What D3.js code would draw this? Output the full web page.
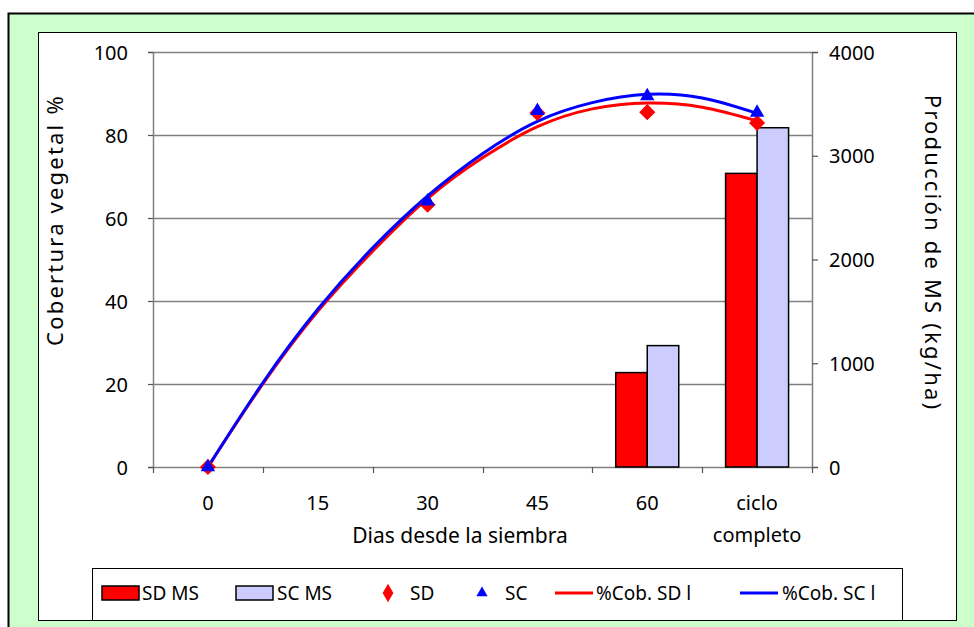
<!DOCTYPE html>
<html><head><meta charset="utf-8">
<script src="https://cdn.jsdelivr.net/npm/d3@7"></script>
<style>body{margin:0;background:#fff}svg text{font-family:"Noto Sans",sans-serif;fill:#000}</style>
</head><body><svg id="c" width="974" height="627"></svg>
<script>
const categories = ["0","15","30","45","60","ciclo completo"];
const sdMS = [null,null,null,null,910,2830];
const scMS = [null,null,null,null,1170,3270];
const sdCob = [0,null,63.2,85.3,85.5,82.9];
const scCob = [0,null,64,85.8,89.4,85.4];
const trendPos = [0,0.5,1,1.5,2,2.5,3,3.5,4,4.5,5];
const sdTrend = [0,20,37.5,52,64.7,74.5,82,86.3,87.7,86.7,83.4];
const scTrend = [0,20.3,38,52.8,65.3,75.5,83.3,87.8,89.8,88.9,85.2];
const leftTicks = [0,20,40,60,80,100];
const rightTicks = [0,1000,2000,3000,4000];

const svg = d3.select("#c");
const L=153,R=812,T=52,B=467;
svg.append("rect").attr("x",8.5).attr("y",13.5).attr("width",1000).attr("height",700).attr("fill","#ccffcc").attr("stroke","#000").attr("stroke-width",2);
svg.append("rect").attr("x",38.5).attr("y",32.5).attr("width",918).attr("height",588).attr("fill","#fff").attr("stroke","#000").attr("stroke-width",1);

const x = d3.scaleBand().domain(categories).range([L,R]).padding(0);
const xi = d3.scaleLinear().domain([0,5]).range([x(categories[0])+x.bandwidth()/2, x(categories[5])+x.bandwidth()/2]);
const y = d3.scaleLinear().domain([0,100]).range([B,T]);
const y2 = d3.scaleLinear().domain([0,4000]).range([B,T]);

svg.append("g").selectAll("line").data(leftTicks.slice(1)).join("line")
  .attr("x1",L).attr("x2",R).attr("y1",d=>Math.round(y(d))+0.5).attr("y2",d=>Math.round(y(d))+0.5)
  .attr("stroke","#808080").attr("stroke-width",1.5);

const ga = svg.append("g").attr("transform",`translate(${L},0)`)
  .call(d3.axisLeft(y).tickValues(leftTicks).tickSize(5).tickPadding(20));
const gb = svg.append("g").attr("transform",`translate(${R},0)`)
  .call(d3.axisRight(y2).tickValues(rightTicks).tickFormat(d3.format("d")).tickSize(6).tickPadding(11));
const gx = svg.append("g").attr("transform",`translate(0,${B})`)
  .call(d3.axisBottom(x).tickValues([]).tickSizeOuter(0));
[ga,gb,gx].forEach(g=>{g.attr("font-size",null).attr("font-family",null);
  g.select(".domain").attr("stroke","#808080").attr("stroke-width",1.5);
  g.selectAll(".tick line").attr("stroke","#555").attr("stroke-width",1.2);
  g.selectAll("text").attr("font-size",20).attr("dy","0.36em");});
const bounds = d3.range(categories.length+1).map(i=>L+i*x.bandwidth());
svg.append("g").selectAll("line").data(bounds).join("line")
  .attr("x1",d=>Math.round(d)+0.5).attr("x2",d=>Math.round(d)+0.5).attr("y1",B).attr("y2",B+6)
  .attr("stroke","#555").attr("stroke-width",1.2);
const xl = svg.append("g").selectAll("text").data(categories).join("text")
  .attr("x",d=>x(d)+x.bandwidth()/2).attr("y",510).attr("text-anchor","middle").attr("font-size",20);
xl.each(function(d){const words=d.split(" ");const t=d3.select(this);
  words.forEach((w,i)=>t.append("tspan").attr("x",x(d)+x.bandwidth()/2).attr("dy",i?32:0).text(w));});

const bw = 31.5;
const barG = svg.append("g");
categories.forEach((c,i)=>{
  const cx = x(c)+x.bandwidth()/2;
  if(sdMS[i]!=null) barG.append("rect").attr("x",cx-bw).attr("y",y2(sdMS[i])).attr("width",bw).attr("height",B-y2(sdMS[i]))
    .attr("fill","#ff0000").attr("stroke","#000").attr("stroke-width",1.5);
  if(scMS[i]!=null) barG.append("rect").attr("x",cx).attr("y",y2(scMS[i])).attr("width",bw).attr("height",B-y2(scMS[i]))
    .attr("fill","#ccccff").attr("stroke","#000").attr("stroke-width",1.5);
});

const line = d3.line().x((d,i)=>xi(trendPos[i])).y(d=>y(d)).curve(d3.curveNatural);
svg.append("path").attr("d",line(sdTrend)).attr("fill","none").attr("stroke","#ff0000").attr("stroke-width",3);
svg.append("path").attr("d",line(scTrend)).attr("fill","none").attr("stroke","#0000ff").attr("stroke-width",3);

const diamond = d3.symbol().type(d3.symbolSquare).size(130);
const tri = d3.symbol().type(d3.symbolTriangle).size(90);
sdCob.forEach((v,i)=>{ if(v==null) return;
  svg.append("path").attr("d",diamond()).attr("transform",`translate(${xi(i)},${y(v)}) rotate(45)`).attr("fill","#ff0000");});
scCob.forEach((v,i)=>{ if(v==null) return;
  svg.append("path").attr("d",tri()).attr("transform",`translate(${xi(i)},${y(v)})`).attr("fill","#0000ff");});

svg.append("text").attr("transform","translate(63,220) rotate(-90)").attr("text-anchor","middle").attr("font-size",22).attr("letter-spacing",2.2).text("Cobertura vegetal %");
svg.append("text").attr("transform","translate(925,253) rotate(90)").attr("text-anchor","middle").attr("font-size",22).attr("letter-spacing",2.2).text("Producción de MS (kg/ha)");
svg.append("text").attr("x",460).attr("y",543).attr("text-anchor","middle").attr("font-size",21).text("Dias desde la siembra");

const lg = svg.append("g");
lg.append("rect").attr("x",92.5).attr("y",568.5).attr("width",810).attr("height",52).attr("fill","#fff").attr("stroke","#000").attr("stroke-width",1);
const ly = 593;
const legendItems = [
 {type:"bar",fill:"#ff0000",x:102,label:"SD MS",tx:142},
 {type:"bar",fill:"#ccccff",x:236,label:"SC MS",tx:277},
 {type:"dia",fill:"#ff0000",x:388,label:"SD",tx:410},
 {type:"tri",fill:"#0000ff",x:482,label:"SC",tx:505},
 {type:"line",fill:"#ff0000",x:555,label:"%Cob. SD l",tx:596},
 {type:"line",fill:"#0000ff",x:740,label:"%Cob. SC l",tx:782}
];
legendItems.forEach(it=>{
  if(it.type==="bar") lg.append("rect").attr("x",it.x).attr("y",ly-7).attr("width",37).attr("height",14).attr("fill",it.fill).attr("stroke","#000").attr("stroke-width",1.5);
  if(it.type==="dia") lg.append("path").attr("d",d3.symbol().type(d3.symbolDiamond).size(100)()).attr("transform",`translate(${it.x},${ly})`).attr("fill",it.fill);
  if(it.type==="tri") lg.append("path").attr("d",d3.symbol().type(d3.symbolTriangle).size(55)()).attr("transform",`translate(${it.x},${ly})`).attr("fill",it.fill);
  if(it.type==="line") lg.append("line").attr("x1",it.x).attr("x2",it.x+38).attr("y1",ly).attr("y2",ly).attr("stroke",it.fill).attr("stroke-width",3);
  lg.append("text").attr("x",it.tx).attr("y",ly+7).attr("font-size",19).text(it.label);
});
</script></body></html>
